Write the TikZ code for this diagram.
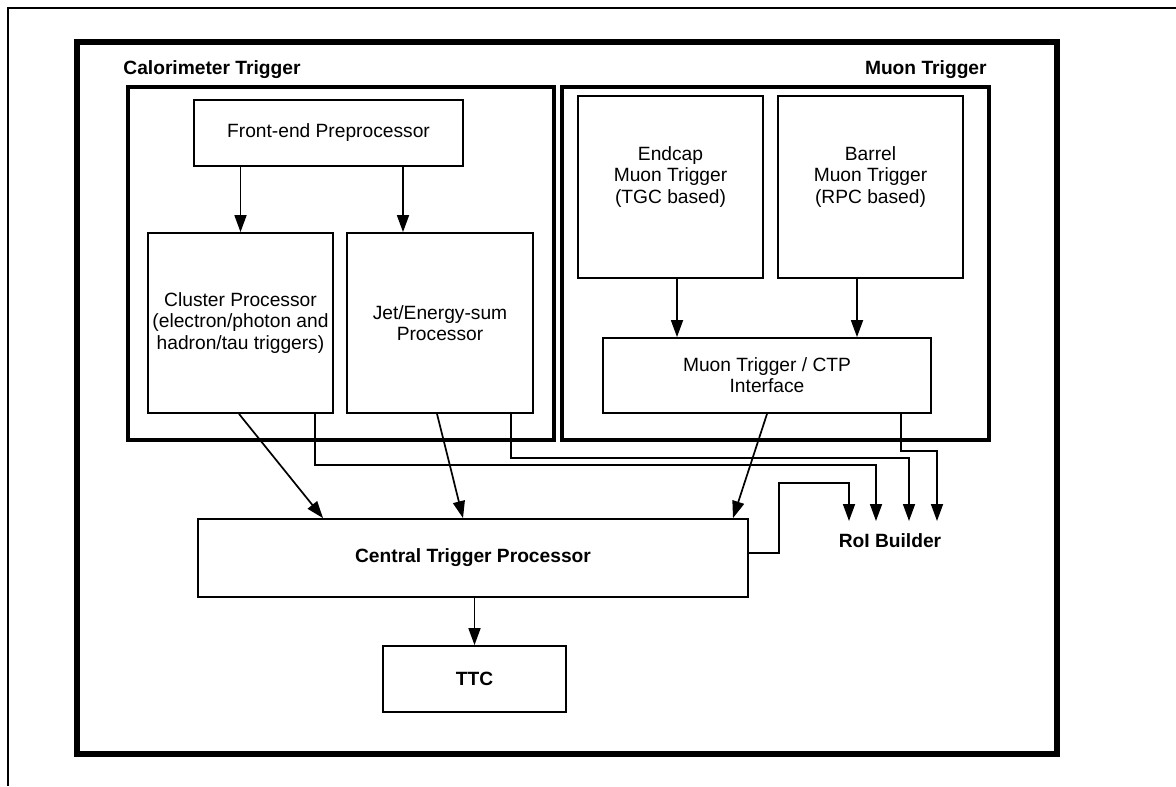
\documentclass[tikz,border=0pt]{standalone}
\usepackage{fontspec}
\setmainfont{Liberation Sans}
\usetikzlibrary{arrows.meta,calc}
\begin{document}
\begin{tikzpicture}[x=0.5pt,y=-0.5pt,
 box/.style={draw,line width=0.9pt,inner sep=1pt,align=center,font=\fontsize{9.6}{10.6}\selectfont},
 group/.style={draw,line width=2pt,minimum width=213pt,minimum height=176.5pt},
 title/.style={font=\fontsize{9.6}{10.6}\selectfont\bfseries,inner sep=0pt},
 link/.style={line width=0.85pt,-{Triangle[length=8.5pt,width=6pt]}}]
 \useasboundingbox (0,0) rectangle (1176,786);
 \draw[line width=1pt] (1176,8) -- (8,8) -- (8,786);
 \draw[line width=3pt] (77,42) rectangle (1057,754);

 \node[group] (calo) at (341,263.5) {};
 \node[group,minimum width=213.5pt] (muon) at (775.5,263.5) {};
 \node[title,anchor=west] (calotitle) at (123,70) {Calorimeter Trigger};
 \node[title,anchor=east] (muontitle) at (987,70) {Muon Trigger};

 \node[box,minimum width=134.5pt,minimum height=33pt] (fep) at (328.5,133) {Front-end Preprocessor};
 \node[box,minimum width=92.5pt,minimum height=90pt] (cp) at (240.5,323) {Cluster Processor\\(electron/photon and\\hadron/tau triggers)};
 \node[box,minimum width=93pt,minimum height=90pt] (jep) at (440,323) {Jet/Energy-sum\\Processor};
 \node[box,minimum width=92.5pt,minimum height=91pt,label={[box,draw=none,yshift=5pt]center:Endcap\\Muon Trigger\\(TGC based)}] (tgc) at (670.5,187) {};
 \node[box,minimum width=92.5pt,minimum height=91pt,label={[box,draw=none,yshift=5pt]center:Barrel\\Muon Trigger\\(RPC based)}] (rpc) at (870.5,187) {};
 \node[box,minimum width=164pt,minimum height=37.5pt] (mioct) at (767,375.5) {Muon Trigger / CTP\\Interface};
 \node[box,minimum width=275pt,minimum height=39pt,font=\fontsize{9.6}{10.6}\selectfont\bfseries] (ctp) at (473,558) {Central Trigger Processor};
 \node[box,minimum width=91.5pt,minimum height=33pt,font=\fontsize{9.6}{10.6}\selectfont\bfseries] (ttc) at (474.5,679) {TTC};
 \node[title,anchor=north,inner ysep=6pt] (roi) at (890,521) {RoI Builder};

 \draw[link] (cp.north |- fep.south) -- (cp.north);
 \draw[link] ($(fep.south)+(74.5,0)$) -- ($(jep.north)+(-37,0)$);
 \draw[link] ($(tgc.south)+(6.5,0)$) -- ($(mioct.north)+(-90,0)$);
 \draw[link] ($(rpc.south)+(-13.5,0)$) -- ($(mioct.north)+(90,0)$);
 \draw[link] ($(cp.south)+(-1.5,0)$) -- ($(ctp.north)+(-150,0)$);
 \draw[link] ($(jep.south)+(-3,0)$) -- ($(ctp.north)+(-10,0)$);
 \draw[link] (mioct.south) -- ($(ctp.north)+(260,0)$);
 \draw[link] (ttc.north |- ctp.south) -- (ttc.north);

 \draw[link] ($(cp.south)+(74.5,0)$) -- ++(0,51) -| ($(roi.north)+(-14,0)$);
 \draw[link] ($(jep.south)+(71,0)$) -- ++(0,44) -| ($(roi.north)+(19,0)$);
 \draw[link] ($(mioct.south)+(134,0)$) -- ++(0,37) -| ($(roi.north)+(47,0)$);
 \draw[link] ($(ctp.east)+(0,-5)$) -- ++(30,0) -- ++(0,-70) -| ($(roi.north)+(-41,0)$);
\end{tikzpicture}
\end{document}
